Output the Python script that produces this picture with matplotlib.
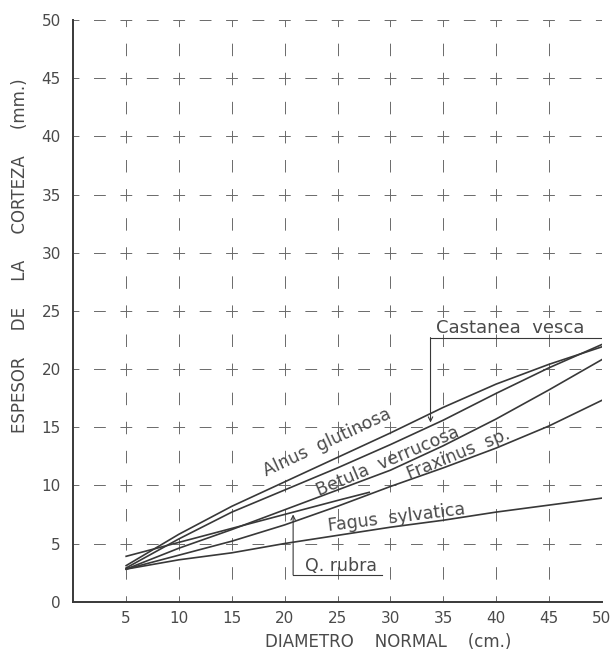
import numpy as np
import matplotlib
matplotlib.use("Agg")
import matplotlib.pyplot as plt

# diameter classes (cm) and bark thickness (mm)
DIAMETERS = [5, 10, 15, 20, 25, 30, 35, 40, 45, 50]
ALNUS = [3.1, 5.8, 8.2, 10.3, 12.4, 14.5, 16.7, 18.7, 20.4, 21.9]
CASTANEA = [2.9, 5.4, 7.7, 9.6, 11.5, 13.5, 15.6, 17.9, 20.1, 22.1]
BETULA = [2.8, 4.6, 6.2, 7.9, 9.6, 11.3, 13.4, 15.7, 18.2, 20.8]
FRAXINUS = [2.8, 4.0, 5.2, 6.6, 8.2, 9.9, 11.5, 13.2, 15.1, 17.3]
FAGUS = [2.8, 3.6, 4.2, 5.0, 5.7, 6.4, 7.0, 7.7, 8.3, 8.9]
QRUBRA_D = [5, 10, 15, 20, 25, 28]
QRUBRA = [3.9, 5.1, 6.3, 7.5, 8.7, 9.4]

X_TICKS = [5, 10, 15, 20, 25, 30, 35, 40, 45, 50]
Y_TICKS = [0, 5, 10, 15, 20, 25, 30, 35, 40, 45, 50]

LINE_COLOR = "#383838"
GRID_COLOR = "#6a6a6a"
TEXT_COLOR = "#4a4a4a"

plt.rcParams["lines.scale_dashes"] = False

fig = plt.figure(figsize=(6.15, 6.58), dpi=100)
ax = fig.add_axes([0.1192, 0.0856, 0.8592, 0.884])
ax.set_xlim(0, 50)
ax.set_ylim(0, 50)

# dashed grid, dashes centred on the intersections so they form small crosses
for v in X_TICKS:
    ax.axvline(v, color=GRID_COLOR, linewidth=0.7, linestyle=(4.5, (9, 11.94)), zorder=1)
for h in Y_TICKS[1:]:
    ax.axhline(h, color=GRID_COLOR, linewidth=0.7, linestyle=(4.25, (8.5, 10.52)), zorder=1)

for ys in (ALNUS, CASTANEA, BETULA, FRAXINUS, FAGUS):
    ax.plot(DIAMETERS, ys, color=LINE_COLOR, linewidth=1.2, zorder=3)
ax.plot(QRUBRA_D, QRUBRA, color=LINE_COLOR, linewidth=1.2, zorder=3)

# species labels written along the curves
lab = dict(color=TEXT_COLOR, fontsize=12.5, ha="center", va="center", zorder=4)
ax.text(24.0, 13.7, "Alnus  glutinosa", rotation=25, **lab)
ax.text(29.8, 12.05, "Betula  verrucosa", rotation=23, **lab)
ax.text(36.4, 12.7, "Fraxinus  sp.", rotation=22, **lab)
ax.text(30.6, 7.2, "Fagus  sylvatica", rotation=7, **lab)
ax.text(25.3, 3.1, "Q. rubra", **lab)
ax.text(34.3, 23.5, "Castanea  vesca", color=TEXT_COLOR, fontsize=13,
        ha="left", va="center", zorder=4)

# leader lines
ax.plot([50, 33.8], [22.7, 22.7], color=LINE_COLOR, linewidth=0.8, zorder=3)
ax.annotate("", xy=(33.8, 15.4), xytext=(33.8, 22.7),
            arrowprops=dict(arrowstyle="->", color=LINE_COLOR, lw=0.8,
                            shrinkA=0, shrinkB=0, mutation_scale=8))
ax.plot([29.2, 20.8], [2.3, 2.3], color=LINE_COLOR, linewidth=0.8, zorder=3)
ax.annotate("", xy=(20.8, 7.5), xytext=(20.8, 2.3),
            arrowprops=dict(arrowstyle="->", color=LINE_COLOR, lw=0.8,
                            shrinkA=0, shrinkB=0, mutation_scale=8))

for side in ("top", "right"):
    ax.spines[side].set_visible(False)
for side in ("left", "bottom"):
    ax.spines[side].set_linewidth(1.4)
    ax.spines[side].set_color(LINE_COLOR)

ax.set_xticks(X_TICKS)
ax.set_yticks(Y_TICKS)
ax.tick_params(length=0, labelsize=11, labelcolor=TEXT_COLOR)
ax.tick_params(axis="x", pad=7)
ax.tick_params(axis="y", pad=9)

fig.text(0.631, 0.024, "DIAMETRO    NORMAL    (cm.)", ha="center", va="center",
         fontsize=12, color=TEXT_COLOR)
fig.text(0.033, 0.611, "ESPESOR     DE     LA     CORTEZA     (mm.)", ha="center",
         va="center", rotation=90, fontsize=12, color=TEXT_COLOR)

fig.savefig("out.png", dpi=100)
